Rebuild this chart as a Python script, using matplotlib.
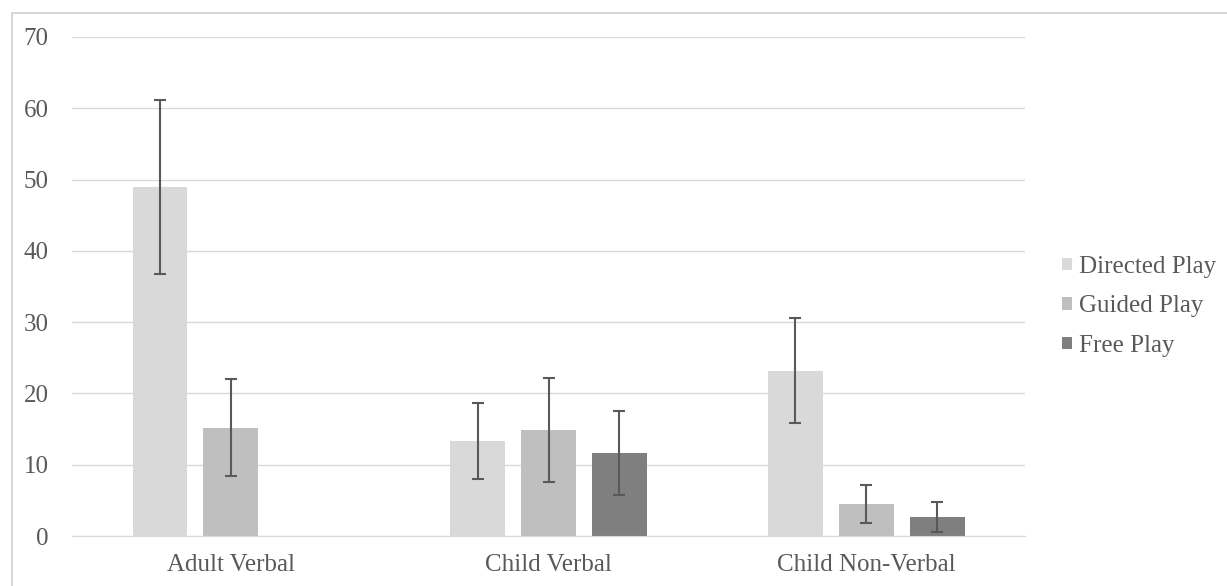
import numpy as np
import matplotlib.pyplot as plt
from matplotlib.patches import Rectangle

# Data
categories = ['Adult Verbal', 'Child Verbal', 'Child Non-Verbal']
series = ['Directed Play', 'Guided Play', 'Free Play']
directed = [48.9, 13.3, 23.2]
guided = [15.2, 14.9, 4.5]
free = [np.nan, 11.6, 2.7]
directed_err = [12.2, 5.3, 7.4]
guided_err = [6.8, 7.3, 2.7]
free_err = [np.nan, 5.9, 2.1]

colors = ['#d9d9d9', '#bfbfbf', '#7f7f7f']
text_color = '#595959'

plt.rcParams['font.family'] = ['Liberation Serif', 'DejaVu Serif']

fig = plt.figure(figsize=(12.27, 5.86), dpi=100)
ax = fig.add_axes([0.0587, 0.0853, 0.8354 - 0.0587, 0.9369 - 0.0853])

x = np.arange(len(categories))
width = 0.173
offsets = [-0.223, 0.0, 0.223]
values = [directed, guided, free]
errors = [directed_err, guided_err, free_err]

for i, (name, vals, errs) in enumerate(zip(series, values, errors)):
    ax.bar(x + offsets[i], vals, width, color=colors[i], label=name, zorder=2)
    ax.errorbar(x + offsets[i], vals, yerr=errs, fmt='none', ecolor=text_color,
                elinewidth=1.5, capsize=4, capthick=1.5, zorder=3)

ax.set_xlim(-0.5, 2.5)
ax.set_ylim(0, 70)
ax.set_yticks(range(0, 71, 10))
ax.set_xticks(x)
ax.set_xticklabels(categories)
ax.yaxis.grid(True, color='#d9d9d9', linewidth=1, zorder=0)
ax.set_axisbelow(True)
for s in ['top', 'right', 'left']:
    ax.spines[s].set_visible(False)
ax.spines['bottom'].set_color('#d9d9d9')
ax.tick_params(axis='both', length=0, labelsize=18, labelcolor=text_color)
ax.tick_params(axis='y', pad=17)
ax.tick_params(axis='x', pad=13)

leg = ax.legend(loc='center left', bbox_to_anchor=(0.847, 0.477), bbox_transform=fig.transFigure,
                frameon=False, fontsize=18, handlelength=0.4, handleheight=0.4,
                handletextpad=0.3, labelspacing=0.7)
for t in leg.get_texts():
    t.set_color(text_color)

# light border around the chart area
fig.patches.append(Rectangle((12 / 1227, -0.05), 1.2, 1 - 13 / 586 + 0.05,
                             transform=fig.transFigure, fill=False,
                             edgecolor='#d0d0d0', linewidth=1.2))

fig.savefig('out.png', dpi=100)
